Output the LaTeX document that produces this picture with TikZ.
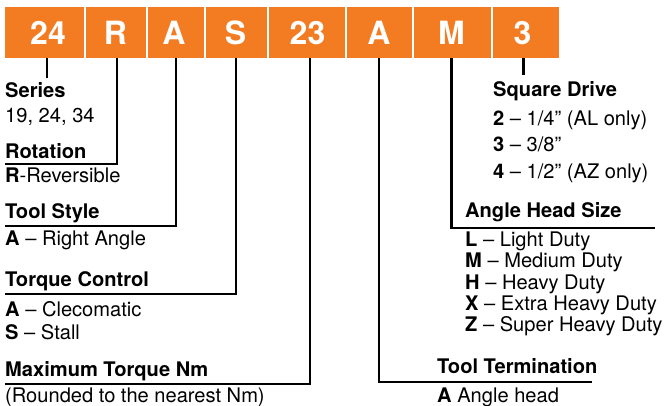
\documentclass[tikz,border=0pt]{standalone}
\usepackage{fontspec}
\setmainfont{TeX Gyre Heros}
\definecolor{cleco}{RGB}{243,124,34}
\begin{document}
\begin{tikzpicture}[x=1pt,y=-1pt,
  box/.style={fill=cleco,draw=none,inner sep=0pt,minimum height=51pt,anchor=north west},
  code/.style={text=white,font=\fontsize{32}{36}\selectfont\bfseries,inner sep=0pt,anchor=base},
  lbl/.style={inner sep=0pt,anchor=base west,font=\fontsize{20.1}{23}\selectfont},
  ttl/.style={lbl,font=\fontsize{20.1}{23}\selectfont\bfseries},
  conn/.style={line width=2.4pt,black}]
\useasboundingbox (0,0) rectangle (664,406);
% code boxes
\node[box,minimum width=79pt] (b1) at (5,7) {};
\node[box,minimum width=60pt] (b2) at (86,7) {};
\node[box,minimum width=55.5pt] (b3) at (148,7) {};
\node[box,minimum width=61.5pt] (b4) at (205.5,7) {};
\node[box,minimum width=76pt] (b5) at (269,7) {};
\node[box,minimum width=65pt] (b6) at (347,7) {};
\node[box,minimum width=76.5pt] (b7) at (414,7) {};
\node[box,minimum width=66.5pt] (b8) at (492.5,7) {};
\node[code] (l1) at (48,45) {24};
\node[code] (l2) at (115.5,45) {R};
\node[code] (l3) at (174,45) {A};
\node[code] (l4) at (235.5,45) {S};
\node[code] (l5) at (307.5,45) {23};
\node[code] (l6) at (379,45) {A};
\node[code] (l7) at (451.5,45) {M};
\node[code] (l8) at (522.5,45) {3};
% connector start points on the bottom edge of the bar
\coordinate (c1) at (47,58);
\coordinate (c2) at (117,58);
\coordinate (c3) at (176,58);
\coordinate (c4) at (236,58);
\coordinate (c5) at (310,58);
\coordinate (c6) at (379,58);
\coordinate (c7) at (451.5,58);
\coordinate (c8) at (523.5,58);
% left column
\node[ttl] (series) at (5,98) {Series};
\node[lbl] (seriesv) at (5,122.5) {19, 24, 34};
\node[ttl] (rot) at (5,159) {Rotation};
\node[lbl] (rotv) at (5,183) {\textbf{R}-Reversible};
\node[ttl] (style) at (5,219) {Tool Style};
\node[lbl] (stylev) at (5,246) {\textbf{A} – Right Angle};
\node[ttl] (torq) at (5,287) {Torque Control};
\node[lbl] (torqa) at (5,316) {\textbf{A} – Clecomatic};
\node[lbl] (torqs) at (5,339) {\textbf{S} – Stall};
\node[ttl] (maxt) at (5,376) {Maximum Torque Nm};
\node[lbl] (maxtv) at (5,402) {(Rounded to the nearest Nm)};
% right column
\node[ttl] (sq) at (493,97) {Square Drive};
\node[lbl] (sq2) at (493,126) {\textbf{2} – 1/4” (AL only)};
\node[lbl] (sq3) at (493,152) {\textbf{3} – 3/8”};
\node[lbl] (sq4) at (493,179) {\textbf{4} – 1/2” (AZ only)};
\node[ttl] (ahs) at (465,218) {Angle Head Size};
\node[lbl] (ahl) at (465,247) {\textbf{L} – Light Duty};
\node[lbl] (ahm) at (465,268) {\textbf{M} – Medium Duty};
\node[lbl] (ahh) at (465,289) {\textbf{H} – Heavy Duty};
\node[lbl] (ahx) at (465,310) {\textbf{X} – Extra Heavy Duty};
\node[lbl] (ahz) at (465,331) {\textbf{Z} – Super Heavy Duty};
\node[ttl] (term) at (437,373) {Tool Termination};
\node[lbl] (termv) at (437,402) {\textbf{A} Angle head};
% connector end points
\coordinate (e1) at (47,78);
\coordinate (e2) at (5,164);
\coordinate (e3) at (5,226);
\coordinate (e4) at (5,294);
\coordinate (e5) at (5,384);
\coordinate (e6) at (592,382);
\coordinate (e7) at (655,228);
\coordinate (e8) at (523.5,75);
% connectors
\draw[conn] (c1) -- (e1);
\draw[conn] (c2) |- (e2);
\draw[conn] (c3) |- (e3);
\draw[conn] (c4) |- (e4);
\draw[conn] (c5) |- (e5);
\draw[conn] (c6) |- (e6);
\draw[conn] (c7) |- (e7);
\draw[conn] (c8) -- (e8);
\end{tikzpicture}
\end{document}
